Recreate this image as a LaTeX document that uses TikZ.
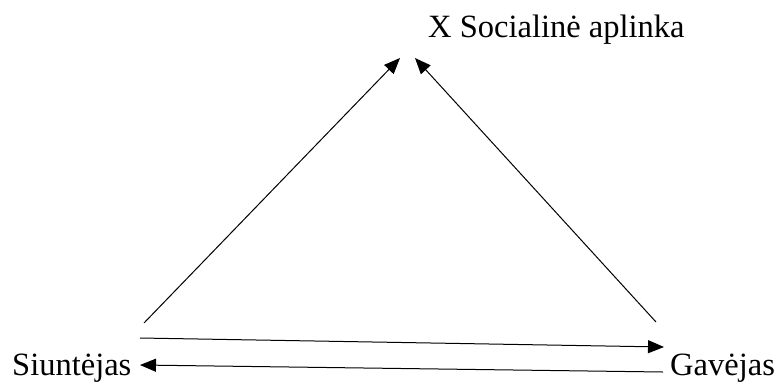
\documentclass[tikz,border=0pt]{standalone}
\usepackage{fontspec}
\setmainfont{Liberation Serif}
\usetikzlibrary{arrows.meta}
\begin{document}
\begin{tikzpicture}[x=1pt,y=-1pt,
  lbl/.style={font=\fontsize{32.5}{36}\selectfont, inner sep=0pt, anchor=base west},
  conn/.style={line width=1pt, -{Triangle[length=16pt,width=13pt]}}]
\useasboundingbox (0,0) rectangle (778,383);
\node[lbl] (soc) at (428,37) {X Socialinė aplinka};
\node[lbl] (siu) at (12,375) {Siuntėjas};
\node[lbl] (gav) at (670,375) {Gavėjas};
\coordinate (l1) at (144,323);
\coordinate (l2) at (400,58);
\coordinate (r1) at (656,322);
\coordinate (r2) at (415,58);
\coordinate (t1) at (140,338);
\coordinate (t2) at (664,347);
\coordinate (b1) at (663,372);
\coordinate (b2) at (140,365);
\draw[conn] (l1) -- (l2);
\draw[conn] (r1) -- (r2);
\draw[conn] (t1) -- (t2);
\draw[conn] (b1) -- (b2);
\end{tikzpicture}
\end{document}
